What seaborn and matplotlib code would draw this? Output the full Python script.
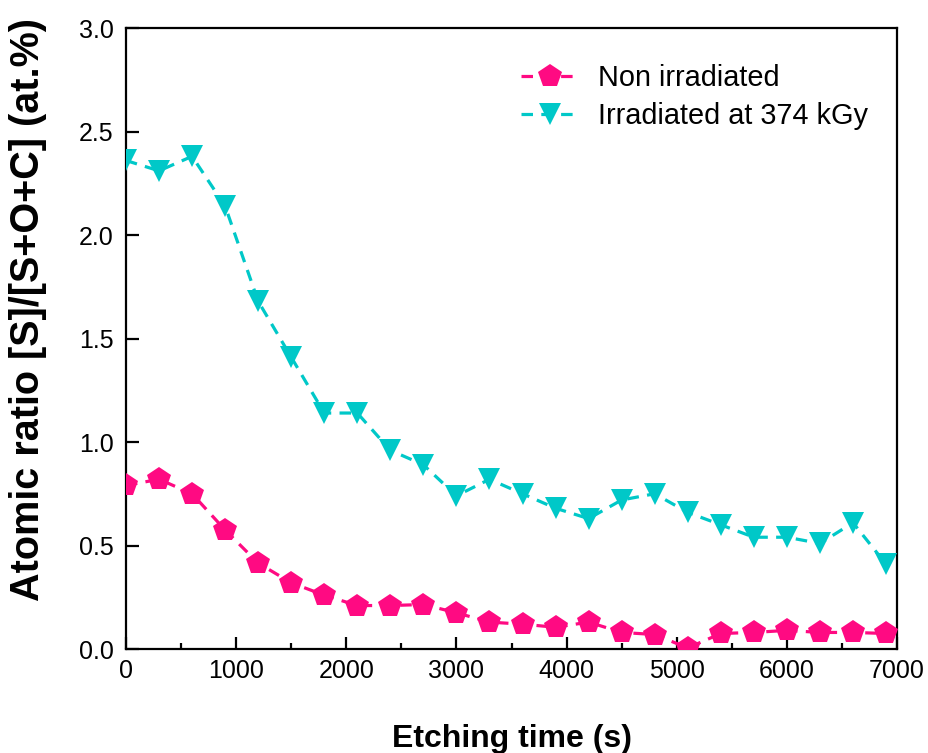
import matplotlib
matplotlib.use("Agg")
import matplotlib.pyplot as plt
import seaborn as sns
import pandas as pd
from matplotlib.ticker import MultipleLocator, FormatStrFormatter

time_s = [0, 300, 600, 900, 1200, 1500, 1800, 2100, 2400, 2700, 3000, 3300,
          3600, 3900, 4200, 4500, 4800, 5100, 5400, 5700, 6000, 6300, 6600, 6900]
non_irradiated = [0.79, 0.82, 0.75, 0.575, 0.415, 0.32, 0.26, 0.21, 0.21, 0.215, 0.175, 0.13,
                  0.12, 0.105, 0.13, 0.08, 0.07, 0.005, 0.075, 0.08, 0.09, 0.08, 0.08, 0.075]
irradiated = [2.36, 2.31, 2.38, 2.14, 1.68, 1.41, 1.14, 1.14, 0.96, 0.89, 0.74, 0.82,
              0.75, 0.68, 0.63, 0.72, 0.75, 0.66, 0.60, 0.54, 0.54, 0.51, 0.61, 0.41]
labels = ["Non irradiated", "Irradiated at 374 kGy"]

sns.set_style("ticks")
plt.rcParams['font.family'] = ['Liberation Sans', 'DejaVu Sans']
plt.rcParams['text.color'] = 'black'
plt.rcParams['axes.labelcolor'] = 'black'

fig = plt.figure(figsize=(9.29, 7.53), dpi=100)
ax = fig.add_axes([0.1356, 0.1381, 0.8300, 0.8247])

dash = (0, (3.6, 2.6))
df1 = pd.DataFrame({"t": time_s, "v": non_irradiated})
df2 = pd.DataFrame({"t": time_s, "v": irradiated})
sns.lineplot(data=df1, x="t", y="v", ax=ax, color="#FF0A82", marker="p", markersize=17.5,
             markeredgewidth=0, linestyle=dash, linewidth=2.3, label=labels[0], zorder=3)
sns.lineplot(data=df2, x="t", y="v", ax=ax, color="#00C8C8", marker="v", markersize=16.5,
             markeredgewidth=0, linestyle=dash, linewidth=2.3, label=labels[1], zorder=3)

ax.set_xlim(0, 7000)
ax.set_ylim(0, 3.0)
ax.xaxis.set_major_locator(MultipleLocator(1000))
ax.xaxis.set_minor_locator(MultipleLocator(500))
ax.yaxis.set_major_locator(MultipleLocator(0.5))
ax.yaxis.set_major_formatter(FormatStrFormatter('%.1f'))
ax.tick_params(axis='both', which='major', direction='in', length=9, width=1.6,
               labelsize=18, color='black', labelcolor='black')
ax.tick_params(axis='x', which='major', pad=7)
ax.tick_params(axis='y', which='major', pad=9)
ax.tick_params(axis='x', which='minor', direction='in', length=4.5, width=1.6, color='black')
for s in ax.spines.values():
    s.set_linewidth(1.6)
    s.set_color('black')

ax.set_xlabel("Etching time (s)", fontsize=23, fontweight='bold', labelpad=30)
ax.set_ylabel("Atomic ratio [S]/[S+O+C] (at.%)", fontsize=28.5, fontweight='bold')
ax.yaxis.set_label_coords(-0.102, 0.546)

leg = ax.legend(loc='upper left', bbox_to_anchor=(0.497, 0.960), frameon=False, fontsize=20.8,
                handlelength=2.0, handletextpad=0.66, borderaxespad=0, labelspacing=0.33)
for t in leg.get_texts():
    t.set_color('black')

fig.savefig("out.png", dpi=100)
